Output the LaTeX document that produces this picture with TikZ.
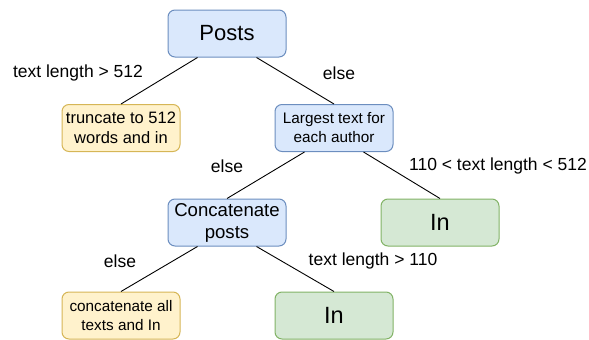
\documentclass[tikz,border=0pt]{standalone}
\usepackage{fontspec}
\setmainfont{Liberation Sans}
\usetikzlibrary{calc}

\definecolor{bluefill}{HTML}{DAE8FC}
\definecolor{blueline}{HTML}{6C8EBF}
\definecolor{yellowfill}{HTML}{FFF2CC}
\definecolor{yellowline}{HTML}{D6B656}
\definecolor{greenfill}{HTML}{D5E8D4}
\definecolor{greenline}{HTML}{82B366}

\tikzset{every picture/.style={line width=1pt}}
\tikzset{
  box/.style={rounded corners=7pt, minimum width=118pt, minimum height=47pt, inner sep=1pt, align=center},
  bluebox/.style={box, draw=blueline, fill=bluefill},
  yellowbox/.style={box, draw=yellowline, fill=yellowfill},
  greenbox/.style={box, draw=greenline, fill=greenfill},
  branch/.style={draw=black, line width=0.9pt},
  lbl/.style={inner sep=0.75pt, font=\fontsize{17.5}{20}\selectfont}
}

\begin{document}
\begin{tikzpicture}[x=1pt,y=1pt,yscale=-1]
\useasboundingbox (0,0) rectangle (589,340);

%Shape: Rounded Rectangle [posts]
\node [bluebox, font=\fontsize{22}{26}\selectfont] (posts) at (227,33.5) {Posts};
%Shape: Rounded Rectangle [truncate]
\node [yellowbox, font=\fontsize{16.5}{20}\selectfont] (trunc) at (121,128) {truncate to 512\\words and in};
%Shape: Rounded Rectangle [largest]
\node [bluebox, font=\fontsize{15.3}{19}\selectfont] (largest) at (334,128) {Largest text for\\each author};
%Shape: Rounded Rectangle [concatenate]
\node [bluebox, font=\fontsize{18.6}{22}\selectfont] (concat) at (227,222.5) {Concatenate\\posts};
%Shape: Rounded Rectangle [in, right]
\node [greenbox, font=\fontsize{23.5}{26}\selectfont] (inright) at (440,222.5) {In};
%Shape: Rounded Rectangle [concatenate all]
\node [yellowbox, font=\fontsize{15.3}{19}\selectfont] (concall) at (121,315.5) {concatenate all\\texts and In};
%Shape: Rounded Rectangle [in, bottom]
\node [greenbox, font=\fontsize{23.5}{26}\selectfont] (inbottom) at (334,315.5) {In};

%Straight Lines
\draw [branch] ([xshift=-29.5pt]posts.south) -- (trunc.north);
\draw [branch] ([xshift=29.5pt]posts.south) -- (largest.north);
\draw [branch] ([xshift=-29.5pt]largest.south) -- (concat.north);
\draw [branch] ([xshift=29.5pt]largest.south) -- (inright.north);
\draw [branch] ([xshift=-29.5pt]concat.south) -- (concall.north);
\draw [branch] ([xshift=29.5pt]concat.south) -- (inbottom.north);

% Text Node
\node [lbl] (lbllong) at (78,73) {text length > 512};
% Text Node
\node [lbl] (lblelsea) at (339,73) {else};
% Text Node
\node [lbl] (lblelseb) at (227,166) {else};
% Text Node
\node [lbl] (lblmid) at (498,166) {110 < text length < 512};
% Text Node
\node [lbl] (lblelsec) at (120,261) {else};
% Text Node
\node [lbl] (lblshort) at (373,261) {text length > 110};

\end{tikzpicture}
\end{document}
